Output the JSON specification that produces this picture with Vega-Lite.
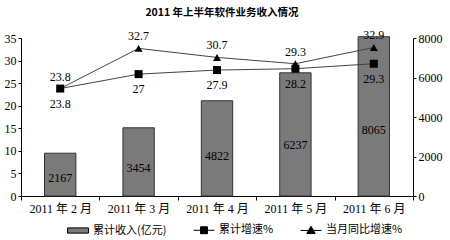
{
  "$schema": "https://vega.github.io/schema/vega-lite/v6.json",
  "width": 392,
  "height": 158,
  "autosize": {"type": "none"},
  "padding": {"left": 21, "top": 38, "right": 37, "bottom": 44},
  "title": {
    "text": "2011 年上半年软件业务收入情况",
    "font": "Noto Sans CJK SC",
    "fontSize": 10.5,
    "fontWeight": "bold",
    "color": "black",
    "offset": 11,
    "dx": 5
  },
  "data": {
    "values": [
      {"month": "2011 年 2 月", "revenue": 2167, "cum": 23.8, "yoy": 23.8},
      {"month": "2011 年 3 月", "revenue": 3454, "cum": 27, "yoy": 32.7},
      {"month": "2011 年 4 月", "revenue": 4822, "cum": 27.9, "yoy": 30.7},
      {"month": "2011 年 5 月", "revenue": 6237, "cum": 28.2, "yoy": 29.3},
      {"month": "2011 年 6 月", "revenue": 8065, "cum": 29.3, "yoy": 32.9}
    ]
  },
  "encoding": {
    "x": {
      "field": "month",
      "type": "nominal",
      "sort": null,
      "scale": {"paddingInner": 0, "paddingOuter": 0},
      "axis": {
        "title": null,
        "labelAngle": 0,
        "tickBand": "extent",
        "tickSize": 4,
        "domainColor": "black",
        "tickColor": "black",
        "labelColor": "black",
        "labelFont": "Liberation Serif, Noto Sans CJK SC",
        "labelFontSize": 12,
        "labelPadding": 3,
        "grid": false
      }
    }
  },
  "layer": [
    {
      "mark": {"type": "bar", "width": {"band": 0.4}, "fill": "#7a7a7a", "stroke": "#333333", "strokeWidth": 1},
      "encoding": {
        "y": {
          "field": "revenue",
          "type": "quantitative",
          "scale": {"domain": [0, 8000], "nice": false},
          "axis": {
            "title": null,
            "orient": "right",
            "values": [0, 2000, 4000, 6000, 8000],
            "format": "d",
            "grid": false,
            "tickSize": 3,
            "labelPadding": 2,
            "domainColor": "black",
            "tickColor": "black",
            "labelColor": "black",
            "labelFont": "Liberation Serif",
            "labelFontSize": 12
          }
        }
      }
    },
    {
      "mark": {"type": "text", "font": "Liberation Serif", "fontSize": 12, "color": "black", "baseline": "middle"},
      "encoding": {
        "y": {"field": "revenue", "type": "quantitative", "scale": {"domain": [0, 19200], "nice": false}, "axis": null},
        "text": {"field": "revenue", "type": "quantitative", "format": "d"}
      }
    },
    {
      "encoding": {
        "y": {
          "field": "yoy",
          "type": "quantitative",
          "scale": {"domain": [0, 35], "nice": false},
          "axis": {
            "title": null,
            "orient": "left",
            "values": [0, 5, 10, 15, 20, 25, 30, 35],
            "grid": false,
            "tickSize": 3,
            "labelPadding": 2,
            "domainColor": "black",
            "tickColor": "black",
            "labelColor": "black",
            "labelFont": "Liberation Serif",
            "labelFontSize": 12
          }
        }
      },
      "layer": [
        {
          "mark": {"type": "line", "color": "#444444", "strokeWidth": 1},
          "encoding": {}
        },
        {
          "mark": {"type": "line", "color": "#444444", "strokeWidth": 1},
          "encoding": {"y": {"field": "cum", "type": "quantitative", "scale": {"domain": [0, 35], "nice": false}, "axis": {
            "title": null,
            "orient": "left",
            "values": [0, 5, 10, 15, 20, 25, 30, 35],
            "grid": false,
            "tickSize": 3,
            "labelPadding": 2,
            "domainColor": "black",
            "tickColor": "black",
            "labelColor": "black",
            "labelFont": "Liberation Serif",
            "labelFontSize": 12
          }}}
        },
        {
          "mark": {"type": "point", "shape": "square", "filled": true, "color": "black", "size": 64, "opacity": 1},
          "encoding": {"y": {"field": "cum", "type": "quantitative", "scale": {"domain": [0, 35], "nice": false}, "axis": {
            "title": null,
            "orient": "left",
            "values": [0, 5, 10, 15, 20, 25, 30, 35],
            "grid": false,
            "tickSize": 3,
            "labelPadding": 2,
            "domainColor": "black",
            "tickColor": "black",
            "labelColor": "black",
            "labelFont": "Liberation Serif",
            "labelFontSize": 12
          }}}
        },
        {
          "mark": {"type": "point", "shape": "triangle-up", "filled": true, "color": "black", "size": 64, "opacity": 1},
          "encoding": {}
        },
        {
          "mark": {"type": "text", "font": "Liberation Serif", "fontSize": 12, "color": "black", "baseline": "middle", "dy": -12},
          "encoding": {
            "text": {"field": "yoy", "type": "quantitative"}
          }
        },
        {
          "mark": {"type": "text", "font": "Liberation Serif", "fontSize": 12, "color": "black", "baseline": "middle", "dy": 15},
          "encoding": {
            "y": {"field": "cum", "type": "quantitative", "scale": {"domain": [0, 35], "nice": false}, "axis": {
            "title": null,
            "orient": "left",
            "values": [0, 5, 10, 15, 20, 25, 30, 35],
            "grid": false,
            "tickSize": 3,
            "labelPadding": 2,
            "domainColor": "black",
            "tickColor": "black",
            "labelColor": "black",
            "labelFont": "Liberation Serif",
            "labelFontSize": 12
          }},
            "text": {"field": "cum", "type": "quantitative"}
          }
        }
      ]
    },
    {
      "transform": [{"filter": "false"}],
      "mark": {"type": "point", "filled": true, "stroke": "black", "strokeWidth": 1, "opacity": 1},
      "encoding": {
        "color": {
          "field": "series",
          "type": "nominal",
          "scale": {"domain": ["累计收入(亿元)", "累计增速%", "当月同比增速%"], "range": ["#7a7a7a", "black", "black"]},
          "legend": {
            "title": null,
            "orient": "none",
            "legendX": 46,
            "legendY": 181,
            "padding": 0,
            "direction": "horizontal",
            "symbolSize": 441,
            "symbolStrokeColor": "black",
            "symbolStrokeWidth": 1,
            "labelOffset": 4,
            "labelFont": "Noto Sans CJK SC",
            "labelFontSize": 11,
            "labelColor": "black",
            "columnPadding": 24
          }
        },
        "shape": {
          "field": "series",
          "type": "nominal",
          "scale": {
            "domain": ["累计收入(亿元)", "累计增速%", "当月同比增速%"],
            "range": ["M-1,-0.25H1V0.25H-1Z", "M-1,0H1M-0.33,-0.33H0.33V0.33H-0.33Z", "M-1,0H1M0,-0.4L0.4,0.3H-0.4Z"]
          },
          "legend": {
            "title": null,
            "orient": "none",
            "legendX": 46,
            "legendY": 181,
            "padding": 0,
            "direction": "horizontal",
            "symbolSize": 441,
            "symbolStrokeColor": "black",
            "symbolStrokeWidth": 1,
            "labelOffset": 4,
            "labelFont": "Noto Sans CJK SC",
            "labelFontSize": 11,
            "labelColor": "black",
            "columnPadding": 24
          }
        }
      }
    }
  ],
  "resolve": {"scale": {"y": "independent"}},
  "config": {"view": {"stroke": null}}
}
